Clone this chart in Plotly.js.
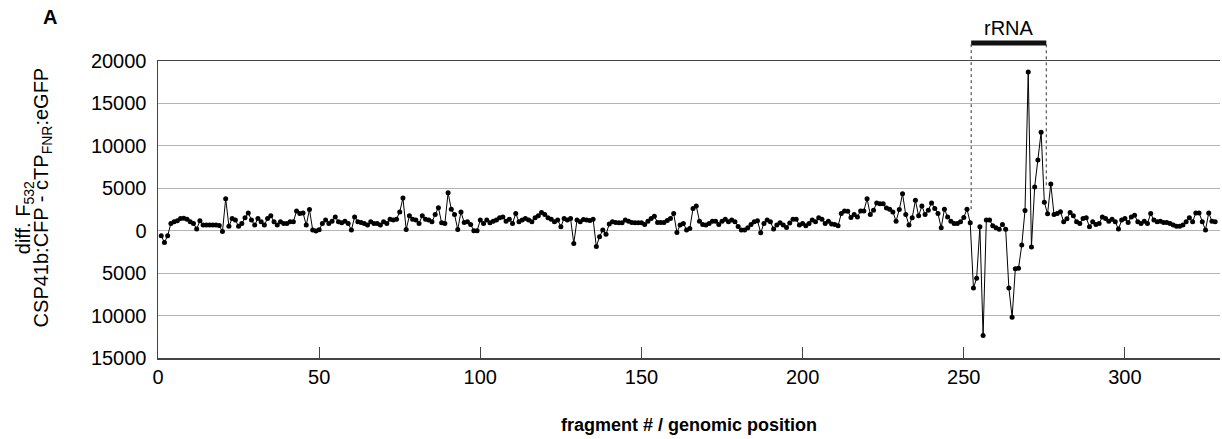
<!DOCTYPE html>
<html><head><meta charset="utf-8">
<script src="https://cdn.plot.ly/plotly-3.0.1.min.js"></script>
<style>html,body{margin:0;padding:0;background:#fff;}#chart{width:1222px;height:439px;}</style>
</head><body><div id="chart"></div>
<script>
// fragment numbers start at 1, one value per fragment
const firstFragment = 1;
const diffF532 = [
-580,-1400,-580,860,1050,1170,1440,1480,1360,1050,
860,190,1170,660,660,660,660,660,600,-100,
3770,540,1440,1250,540,860,1520,2100,1250,660,
1440,1050,660,1440,1750,1050,660,1050,860,860,
1050,1050,2330,2020,2100,660,2490,80,-40,100,
860,1250,860,1130,1630,1050,930,1130,860,80,
1630,1050,970,860,660,1050,860,860,660,1050,
860,1360,1250,1360,2220,3850,150,1750,1360,1250,
860,1750,1360,1250,1050,1900,2720,930,860,4470,
2530,1900,150,2220,970,1050,740,0,0,1250,
860,1250,930,1130,1250,1520,1630,1130,1360,860,
2020,1050,1250,1440,1250,1050,1520,1750,2140,1900,
1520,1360,1050,1250,470,1440,1250,1440,-1500,1250,
1050,1320,1250,1200,1360,-1870,-700,80,-430,800,
1050,970,930,930,1250,1130,970,930,930,930,
740,1130,1440,1710,970,970,970,1200,1440,2020,
-200,660,860,80,270,2610,2920,1130,740,660,
860,1130,1130,740,1130,1360,1050,1250,1050,500,
80,80,350,740,1050,1170,-230,860,1250,1050,
190,660,930,660,390,900,1360,1360,660,860,
580,860,1250,1050,1520,1360,860,1130,780,740,
580,2020,2330,2290,1560,1900,1630,2330,2330,3770,
1900,2410,3270,3190,3190,2680,2530,2220,1130,2490,
4360,1900,660,1520,3580,1750,2920,1900,2410,3270,
2610,2020,350,2530,1630,1130,860,860,1050,1560,
2540,940,-6760,-5590,470,-12340,1250,1250,590,350,
160,740,160,-6760,-10200,-4490,-4410,-1680,2380,18710,
-1910,5160,8320,11600,3360,1990,5510,1910,2030,2230,
1050,1400,2140,1750,1050,860,1440,1520,470,1050,
740,860,1630,1440,1130,1360,1050,190,1250,1440,
970,1630,1830,1050,860,1130,860,2020,1250,1050,
1130,970,970,860,660,540,540,660,1050,1520,
1050,2100,2100,1050,80,2100,1130,1050
];
const yTickVals = [-15000,-10000,-5000,0,5000,10000,15000,20000];
const yTickText = ['15000','10000','5000','0','5000','10000','15000','20000'];
const xTickVals = [0,50,100,150,200,250,300];
const rrnaStart = 252.3, rrnaEnd = 275.6;       // rRNA region bounds (fragment #)
const rrnaStartTop = 2540, rrnaEndTop = 5350;   // where the dotted guides meet the data
const yRange = [-15000, 20000];

const toPaper = v => (v - yRange[0]) / (yRange[1] - yRange[0]);
const font = 'Liberation Sans, Arial, sans-serif';

const trace = {
  type: 'scatter', mode: 'lines+markers',
  x0: firstFragment, dx: 1, y: diffF532,
  line: {color: '#000', width: 1},
  marker: {color: '#000', size: 5},
  cliponaxis: false, hoverinfo: 'x+y'
};

const layout = {
  width: 1222, height: 439,
  margin: {l: 158, r: 2, t: 61, b: 81},
  paper_bgcolor: '#fff', plot_bgcolor: '#fff',
  showlegend: false,
  font: {family: font, size: 20, color: '#000'},
  xaxis: {
    range: [0, 329.5], tickvals: xTickVals, ticks: 'inside', ticklen: 11, tickcolor: '#444', tickwidth: 1,
    showline: true, linecolor: '#444', linewidth: 1.5, mirror: true,
    showgrid: false, zeroline: false,
    tickfont: {family: font, size: 20, color: '#000'},
    title: {text: '<b>fragment # / genomic position</b>', font: {family: font, size: 18, color: '#000'}, standoff: 32}
  },
  yaxis: {
    range: yRange, tickvals: yTickVals, ticktext: yTickText,
    ticks: 'outside', ticklen: 0, ticklabelstandoff: 6,
    showline: true, linecolor: '#444', linewidth: 1.5,
    showgrid: true, gridcolor: '#b5b5b5', gridwidth: 1, zeroline: false,
    tickfont: {family: font, size: 20, color: '#000'}
  },
  shapes: [
    {type: 'line', xref: 'x', yref: 'paper', x0: rrnaStart, x1: rrnaEnd, y0: 1.061, y1: 1.061,
     line: {color: '#111', width: 5}},
    {type: 'line', xref: 'x', yref: 'paper', x0: rrnaStart, x1: rrnaStart, y0: toPaper(rrnaStartTop), y1: 1.061,
     line: {color: '#333', width: 1, dash: 'dot'}},
    {type: 'line', xref: 'x', yref: 'paper', x0: rrnaEnd, x1: rrnaEnd, y0: toPaper(rrnaEndTop), y1: 1.061,
     line: {color: '#333', width: 1, dash: 'dot'}}
  ],
  annotations: [
    {text: '<b>A</b>', xref: 'paper', yref: 'paper', x: -0.1019, y: 1.149, xanchor: 'center', yanchor: 'middle',
     showarrow: false, font: {family: font, size: 20, color: '#000'}},
    {text: 'rRNA', xref: 'x', yref: 'paper', x: (rrnaStart + rrnaEnd) / 2, y: 1.066, xanchor: 'center', yanchor: 'bottom',
     showarrow: false, font: {family: font, size: 20, color: '#000'}},
    {text: 'diff. F<sub>532</sub>', xref: 'paper', yref: 'paper', x: -0.1255, y: 0.473, xanchor: 'center', yanchor: 'middle',
     textangle: -90, showarrow: false, font: {family: font, size: 20, color: '#000'}},
    {text: 'CSP41b:CFP - cTP<sub>FNR</sub>:eGFP', xref: 'paper', yref: 'paper', x: -0.1085, y: 0.54, xanchor: 'center', yanchor: 'middle',
     textangle: -90, showarrow: false, font: {family: font, size: 20, color: '#000'}}
  ]
};

Plotly.newPlot('chart', [trace], layout, {staticPlot: true, displayModeBar: false});
</script></body></html>
